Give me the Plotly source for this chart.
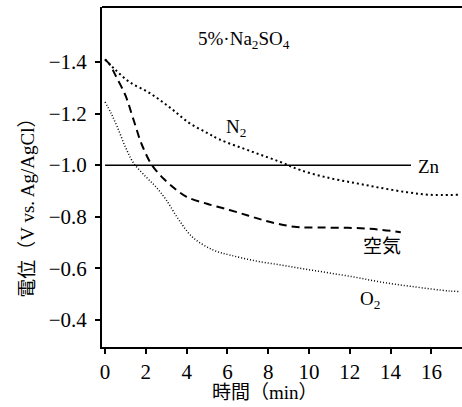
import plotly.graph_objects as go

# Data
n2_t = [0, 0.5, 1.2, 2.2, 3.2, 4.1, 5.0, 5.6, 7.25, 8.6, 9.6, 11.0, 12.3, 13.5, 14.8, 15.9, 17.3]
n2_v = [-1.41, -1.37, -1.322, -1.279, -1.222, -1.165, -1.125, -1.1, -1.051, -1.012, -0.98, -0.95, -0.93, -0.912, -0.895, -0.885, -0.885]

air_t = [0, 0.25, 0.5, 1.0, 1.4, 1.8, 2.3, 2.9, 3.5, 4.0, 5.0, 6.1, 7.0, 7.7, 8.5, 9.4, 10.5, 11.9, 13.2, 14.5]
air_v = [-1.41, -1.388, -1.35, -1.27, -1.175, -1.08, -1.0, -0.945, -0.904, -0.877, -0.85, -0.826, -0.805, -0.788, -0.772, -0.76, -0.758, -0.757, -0.752, -0.74]

o2_t = [0, 0.3, 0.6, 1.0, 1.4, 2.0, 2.5, 3.0, 3.6, 4.3, 5.3, 6.1, 7.3, 8.6, 9.8, 11.0, 12.3, 13.5, 15.0, 16.9, 17.4]
o2_v = [-1.245, -1.2, -1.148, -1.07, -1.008, -0.955, -0.915, -0.865, -0.79, -0.72, -0.671, -0.652, -0.63, -0.613, -0.597, -0.582, -0.565, -0.547, -0.53, -0.512, -0.51]

zn_t = [0, 15.0]
zn_v = [-1.0, -1.0]

y_ticks = [-1.4, -1.2, -1.0, -0.8, -0.6, -0.4]
x_ticks = [0, 2, 4, 6, 8, 10, 12, 14, 16]

serif = "Liberation Serif, Times New Roman, Noto Sans CJK JP, serif"

fig = go.Figure()
fig.add_trace(go.Scatter(x=n2_t, y=n2_v, mode="lines", line=dict(color="black", width=2, dash="2px,3px", shape="spline")))
fig.add_trace(go.Scatter(x=air_t, y=air_v, mode="lines", line=dict(color="black", width=2, dash="8px,5px", shape="spline")))
fig.add_trace(go.Scatter(x=o2_t, y=o2_v, mode="lines", line=dict(color="black", width=1.5, dash="1px,2px", shape="spline")))
fig.add_trace(go.Scatter(x=zn_t, y=zn_v, mode="lines", line=dict(color="black", width=1.5)))

ann_font = dict(family=serif, size=19, color="black")
annotations = [
    dict(x=6.8, y=-1.485, text="5%·Na<sub>2</sub>SO<sub>4</sub>", showarrow=False, font=ann_font),
    dict(x=6.42, y=-1.144, text="N<sub>2</sub>", showarrow=False, font=ann_font),
    dict(x=15.9, y=-0.995, text="Zn", showarrow=False, font=ann_font),
    dict(x=13.6, y=-0.683, text="空気", showarrow=False, font=ann_font),
    dict(x=13.0, y=-0.478, text="O<sub>2</sub>", showarrow=False, font=ann_font),
    dict(x=0.453, y=-0.135, xref="paper", yref="paper", xanchor="center", yanchor="middle",
         text="時間（min）", showarrow=False, font=ann_font),
    dict(x=-0.206, y=0.424, xref="paper", yref="paper", xanchor="center", yanchor="middle",
         text="電位（V vs. Ag/AgCl）", textangle=-90, showarrow=False, font=ann_font),
]

fig.update_layout(
    width=462, height=407,
    margin=dict(l=102, r=0, t=7, b=60),
    paper_bgcolor="white", plot_bgcolor="white",
    showlegend=False,
    annotations=annotations,
    shapes=[dict(type="line", xref="paper", yref="paper", x0=0, x1=1, y0=1, y1=1, line=dict(color="black", width=2))],
    xaxis=dict(range=[-0.15, 17.5], tickvals=x_ticks, showline=True, linecolor="black", linewidth=2,
               ticks="outside", ticklen=5, tickwidth=1.5, tickcolor="black", showgrid=False, zeroline=False,
               tickfont=dict(family=serif, size=21, color="black")),
    yaxis=dict(range=[-0.295, -1.613], tickvals=y_ticks, tickformat=".1f", showline=True, linecolor="black", linewidth=2,
               ticks="outside", ticklen=5, tickwidth=1.5, tickcolor="black", showgrid=False, zeroline=False,
               ticklabelstandoff=4,
               tickfont=dict(family=serif, size=21, color="black")),
)

fig.write_html("out.html", config={"displayModeBar": False},
               post_script="document.body.style.margin='0';document.body.style.overflow='hidden';")
